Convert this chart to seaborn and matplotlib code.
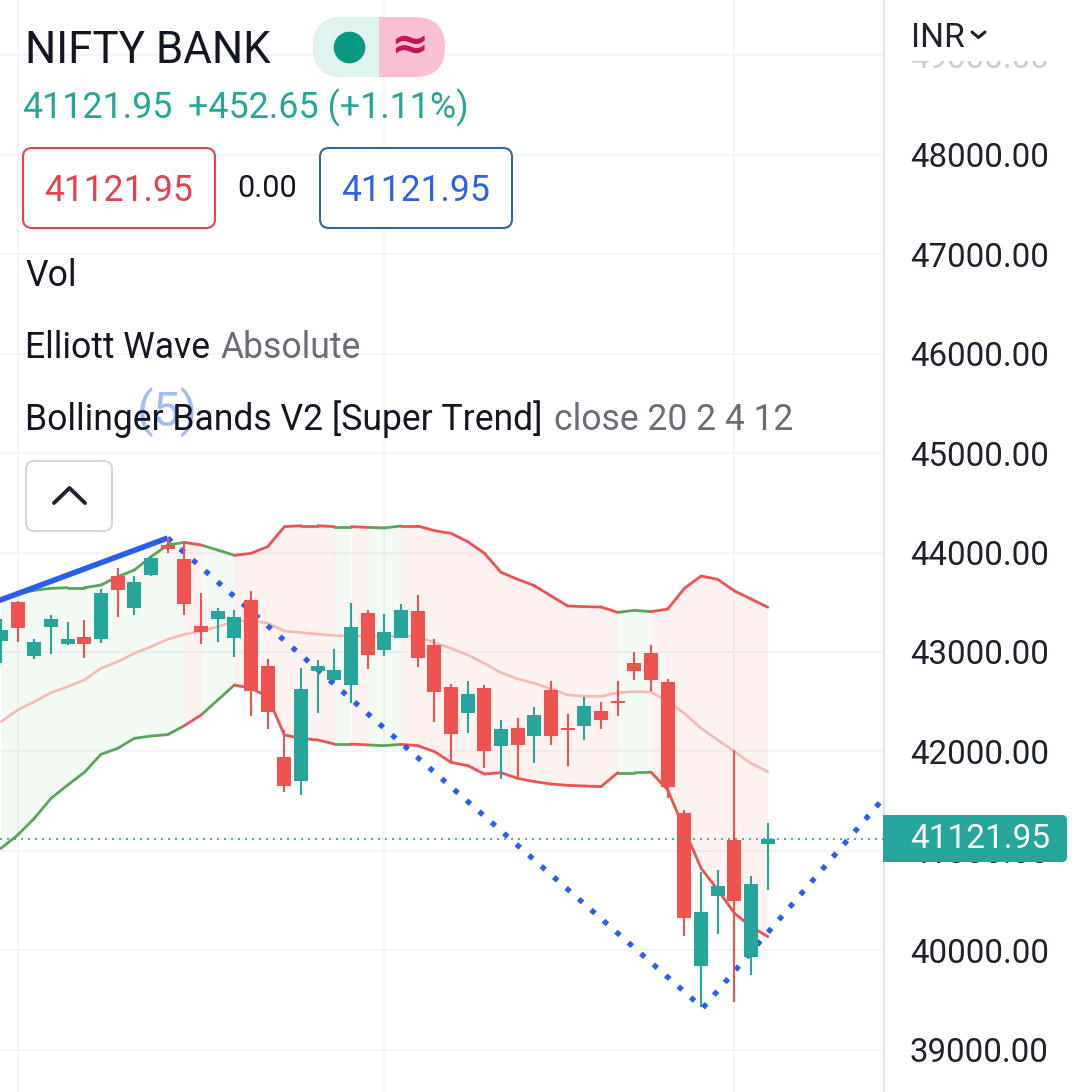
import matplotlib
matplotlib.use("Agg")
import pandas as pd
import matplotlib.pyplot as plt
import seaborn as sns
from matplotlib.patches import FancyBboxPatch, Rectangle

# -----------------------------------------------------------
# DATA
# -----------------------------------------------------------
opens = [43113, 43499, 42962, 43251, 43083, 43147, 43133, 43764, 43445, 43777, 44076, 43931,
         43257, 43331, 43143, 43519, 42858, 41940, 41705, 42808, 42718, 42671, 43388, 43023,
         43143, 43408, 43070, 42647, 42389, 42637, 42057, 42231, 42158, 42614, 42231, 42258,
         42402, 42503, 42885, 42986, 42694, 41380, 39844, 40548, 41108, 39928, 41071]
highs = [43331, 43512, 43127, 43371, 43301, 43321, 43630, 43841, 43764, 43968, 44143, 44099,
         43589, 43438, 43422, 43613, 42925, 42215, 42835, 42915, 43026, 43489, 43422, 43378,
         43479, 43573, 43130, 42674, 42704, 42671, 42312, 42332, 42443, 42704, 42376, 42550,
         42493, 42704, 42999, 43070, 42724, 41410, 40783, 40806, 42013, 40746, 41276]
lows = [42885, 43103, 42932, 42979, 43070, 42942, 43093, 43355, 43375, 43767, 43992, 43371,
        43080, 43103, 42952, 42359, 42228, 41594, 41561, 42389, 42707, 42483, 42832, 42962,
        43143, 42852, 42298, 41886, 42188, 41832, 41722, 41728, 41886, 42064, 41852, 42114,
        42225, 42359, 42718, 42607, 41534, 40146, 39432, 40166, 39482, 39750, 40609]
closes = [43221, 43244, 43096, 43328, 43127, 43083, 43593, 43626, 43700, 43945, 44035, 43485,
          43204, 43408, 43348, 42607, 42399, 41655, 42624, 42855, 42815, 43247, 42972, 43197,
          43418, 42942, 42600, 42178, 42573, 42007, 42221, 42067, 42362, 42158, 42215, 42453,
          42319, 42490, 42811, 42721, 41638, 40327, 40381, 40645, 40498, 40666, 41121.95]

upper = [43529, 43583, 43620, 43640, 43646, 43646, 43673, 43757, 43824, 43958, 44076, 44102,
         44076, 44025, 43972, 43992, 44059, 44260, 44270, 44270, 44260, 44260, 44253, 44247,
         44267, 44267, 44220, 44193, 44109, 43992, 43801, 43730, 43666, 43563, 43462, 43455,
         43452, 43398, 43418, 43405, 43432, 43640, 43764, 43730, 43613, 43532, 43449]
basis = [42298, 42416, 42500, 42590, 42650, 42718, 42835, 42902, 42986, 43053, 43127, 43177,
         43210, 43254, 43304, 43321, 43288, 43210, 43194, 43180, 43164, 43160, 43153, 43153,
         43164, 43153, 43093, 43036, 42969, 42885, 42791, 42728, 42684, 42627, 42567, 42553,
         42553, 42590, 42600, 42597, 42500, 42382, 42231, 42114, 41997, 41879, 41795]
lower = [41024, 41158, 41326, 41527, 41661, 41789, 41970, 42030, 42131, 42154, 42168, 42258,
         42365, 42516, 42667, 42634, 42550, 42164, 42131, 42114, 42074, 42074, 42064, 42057,
         42070, 42057, 41997, 41889, 41856, 41772, 41785, 41728, 41695, 41671, 41658, 41651,
         41645, 41785, 41785, 41789, 41611, 41209, 40823, 40605, 40370, 40236, 40136]
# g = green segment, r = red segment, one per step between two bars
band_state = list("ggggggggggg" "r" "gg" "rrrrrr" "g" "r" "gg" "rrrrrrrrrrrrr" "gg" "rrrrrrr")

impulse_x = [-1, 10]
impulse_y = [43462, 44146]
wave_x = [10, 42.1, 52.9]
wave_y = [44146, 39418, 41520]

last_price = 41121.95
price_ticks = [39000, 40000, 41000, 42000, 43000, 44000, 45000, 46000, 47000, 48000, 49000]
date_grid = [1, 23, 44]

RED = "#ef5350"
TEAL = "#26a69a"
GREEN = "#58a65c"
BLUE = "#2a5fee"
DARK = "#131722"
GRID = "#f0f3f7"
GREY = "#6a6d78"

W, H = 1080, 1092
sns.set_theme(style="white")
plt.rcParams["font.family"] = ["Roboto", "DejaVu Sans"]

fig = plt.figure(figsize=(W / 100, H / 100), dpi=100, facecolor="white")
ax = fig.add_axes([0, 0, 884 / W, 1])
ax.set_xlim(-0.06, 52.97)
ax.set_ylim(38573, 49558)

# -----------------------------------------------------------
# GRID + PRICE SCALE
# -----------------------------------------------------------
for p in price_ticks:
    ax.axhline(p, color=GRID, lw=1.1, zorder=0)
for d in date_grid:
    ax.axvline(d, color=GRID, lw=1.1, zorder=0)

ax.yaxis.tick_right()
ax.set_yticks(price_ticks)
ax.set_yticklabels([f"{p:.2f}" for p in price_ticks])
ax.set_xticks([])
ax.tick_params(axis="y", length=0, pad=18.7, labelsize=23.8, labelcolor="#1e222d")
for side in ["top", "left", "bottom"]:
    ax.spines[side].set_visible(False)
ax.spines["right"].set_color("#e0e3eb")
ax.spines["right"].set_linewidth(1.5)

# only the lower edge of the top label shows under the header
top_label = ax.get_yticklabels()[-1]
top_label.set_color("#c9ccd3")
top_label.set_clip_box(matplotlib.transforms.Bbox([[884, 0], [W, H - 61]]))
top_label.set_clip_on(True)

# -----------------------------------------------------------
# BOLLINGER BANDS
# -----------------------------------------------------------
rows = []
for i, state in enumerate(band_state):
    for j in [i, i + 1]:
        rows.append({"idx": j, "seg": i, "state": state, "upper": upper[j], "lower": lower[j]})
bands = pd.DataFrame(rows)

for i, state in enumerate(band_state):
    ax.fill_between([i, i + 1], lower[i:i + 2], upper[i:i + 2], lw=0, zorder=1,
                    color="#4caf50" if state == "g" else "#f44336", alpha=0.065)

palette = {"g": GREEN, "r": RED}
for col in ["upper", "lower"]:
    sns.lineplot(data=bands, x="idx", y=col, hue="state", units="seg", estimator=None,
                 palette=palette, legend=False, lw=2.0, ax=ax, zorder=2)
sns.lineplot(x=range(len(basis)), y=basis, color="#f7b9b4", lw=1.9, ax=ax, zorder=2)
ax.set_xlabel("")
ax.set_ylabel("")

# -----------------------------------------------------------
# ELLIOTT WAVE
# -----------------------------------------------------------
ax.plot(impulse_x, impulse_y, color=BLUE, lw=4, zorder=3, solid_capstyle="butt")
ax.plot(wave_x, wave_y, color=BLUE, lw=3.8, zorder=3, linestyle=(0, (1, 2.14)),
        dash_capstyle="butt")
ax.text(10, 45414, "(5)", color="#a4bcf5", fontsize=35, ha="center", va="center", zorder=3)

# -----------------------------------------------------------
# CANDLES
# -----------------------------------------------------------
for i in range(len(opens)):
    col = TEAL if closes[i] >= opens[i] else RED
    ax.vlines(i, lows[i], highs[i], color=col, lw=1.5, zorder=4)
    ax.bar(i, abs(closes[i] - opens[i]), bottom=min(opens[i], closes[i]), width=0.84,
           color=col, lw=0, zorder=4)

ax.axhline(last_price, color=TEAL, lw=1.2, linestyle=(0, (1.2, 3)), zorder=5)

# -----------------------------------------------------------
# HEADER / LEGEND OVERLAY (pixel coordinates)
# -----------------------------------------------------------
ui = fig.add_axes([0, 0, 1, 1], facecolor="none")
ui.set_xlim(0, W)
ui.set_ylim(H, 0)
ui.axis("off")


def label(x, y, s, size, color=DARK, **kw):
    ui.text(x, y, s, fontsize=size, color=color, va="baseline", **kw)


def box(x0, y0, x1, y1, rad, **kw):
    patch = FancyBboxPatch((x0 + rad, y0 + rad), x1 - x0 - 2 * rad, y1 - y0 - 2 * rad,
                           boxstyle=f"round,pad={rad},rounding_size={rad}", **kw)
    ui.add_patch(patch)
    return patch


label(25, 63, "NIFTY BANK", 31.6)

box(313, 17, 445, 77, 30, fc="#fcc0d4", ec="none")
left_pill = box(313, 17, 445, 77, 30, fc="#dff3ef", ec="none")
left_pill.set_clip_path(Rectangle((313, 17), 66, 60, transform=ui.transData))
ui.scatter([349], [47], s=520, color="#089981", lw=0)
ui.text(409, 47, "≈", fontsize=33, color="#c2185b", fontweight="bold", ha="center", va="center",
        family="DejaVu Sans")

label(22, 118, "41121.95", 25.8, TEAL)
label(188.5, 118, "+452.65 (+1.11%)", 25.8, TEAL)

box(23, 148, 215, 228, 9, fc="white", ec="#e0434f", lw=1.5)
label(119, 201, "41121.95", 25.6, "#e0434f", ha="center")
label(267.5, 197, "0.00", 22, DARK, ha="center")
box(320, 148, 512, 228, 9, fc="white", ec="#2f66ac", lw=1.5)
label(416, 201, "41121.95", 25.6, "#2f62e0", ha="center")

label(25, 286, "Vol", 25.6)
label(25, 358, "Elliott Wave", 25.6)
label(221, 358, "Absolute", 25.6, GREY)
label(25, 430, "Bollinger Bands V2 [Super Trend]", 25.6)
label(554, 430, "close 20 2 4 12", 25.6, GREY)

box(26, 461, 112, 531, 8, fc="white", ec="#d1d4dc", lw=1.4)
ui.plot([54, 69.5, 85], [503, 488, 503], color="#1e222d", lw=2.8, solid_capstyle="round")

label(911, 47, "INR", 24.2, "#1e222d")
ui.plot([972, 978.5, 985], [32, 37.5, 32], color="#1e222d", lw=2.2)

# last price tag on the scale
tag = box(883, 815, 1067, 862, 5, fc=TEAL, ec="none")
ui.add_patch(Rectangle((883, 815), 10, 47, fc=TEAL, ec="none"))
ui.text(980.5, 839, "41121.95", fontsize=24, color="white", ha="center", va="center")

fig.savefig("out.png", dpi=100)
